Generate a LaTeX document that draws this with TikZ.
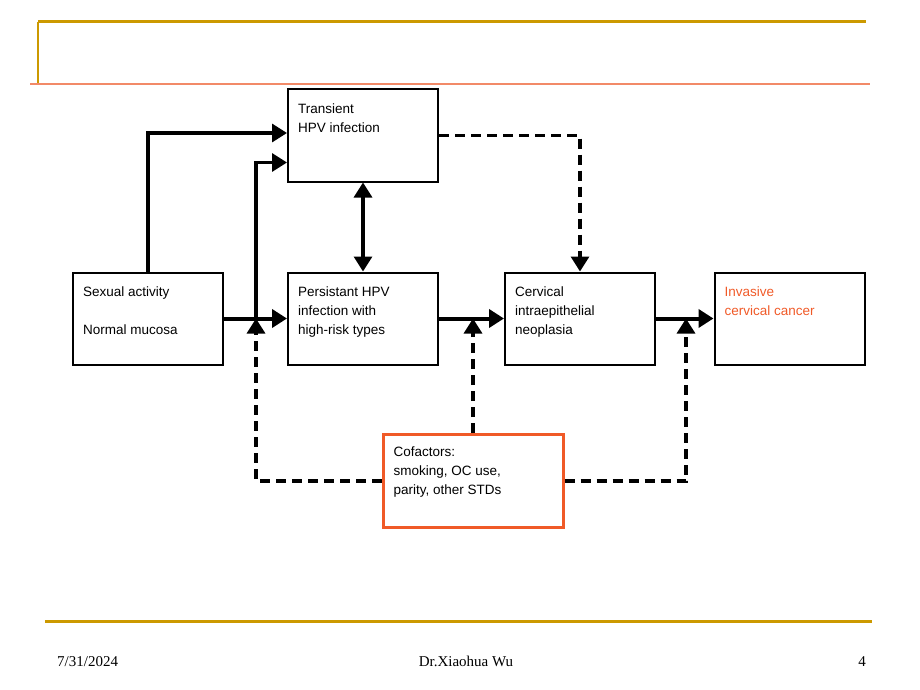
\documentclass[tikz,border=0pt]{standalone}
\usepackage{fontspec}
\setmainfont{Liberation Serif}
\setsansfont{Liberation Sans}
\usetikzlibrary{arrows.meta}

\definecolor{slidegold}{HTML}{CC9900}
\definecolor{slidesalmon}{HTML}{F28A68}
\definecolor{riskred}{HTML}{F05A28}

\tikzset{
  box/.style={draw, line width=2pt, line join=miter, minimum width=150pt, minimum height=92pt, inner sep=0pt},
  txt/.style={anchor=north west, inner sep=0pt, align=left, font=\sffamily\fontsize{13.5}{19}\selectfont},
  foot/.style={inner sep=0pt, font=\fontsize{15}{18}\selectfont},
  flow/.style={line width=3.2pt, -{Triangle[length=15pt,width=18pt]}},
  cof/.style={flow, dash pattern=on 10pt off 6pt},
}

\begin{document}
\begin{tikzpicture}[x=1pt,y=-1pt]
\useasboundingbox (0,0) rectangle (920,690);

% slide frame
\draw[slidegold, line width=3pt] (38,22) -- (866,22);
\draw[slidegold, line width=1.2pt] (38,22) -- (38,84);
\draw[slidesalmon, line width=1.2pt] (30,84) -- (870,84);
\draw[slidegold, line width=3pt] (45,621) -- (872,621);

\node[foot, anchor=base west] (date) at (57,666) {7/31/2024};
\node[foot, anchor=base] (author) at (466,666) {Dr.Xiaohua Wu};
\node[foot, anchor=base east] (page) at (866,666) {4};

% boxes
\node[box] (trans) at (363,135.5) {};
\node[box] (sexual) at (148,318.5) {};
\node[box] (persist) at (363,318.5) {};
\node[box] (cin) at (580,318.5) {};
\node[box] (cancer) at (789.5,318.5) {};
\node[box, draw=riskred, line width=3pt, minimum width=180pt, minimum height=93pt] (cofac) at (473,481) {};

\node[txt] (transt) at ([shift={(11,15)}]trans.north west) {Transient\\HPV infection};
\node[txt] (sexualt) at ([shift={(11,15)}]sexual.north west) {Sexual activity\\[19pt]Normal mucosa};
\node[txt] (persistt) at ([shift={(11,15)}]persist.north west) {Persistant HPV\\infection with\\high-risk types};
\node[txt] (cint) at ([shift={(11,15)}]cin.north west) {Cervical\\intraepithelial\\neoplasia};
\node[txt, text=riskred] (cancert) at ([shift={(11,15)}]cancer.north west) {Invasive\\cervical cancer};
\node[txt] (cofact) at ([shift={(12,14)}]cofac.north west) {Cofactors:\\smoking, OC use,\\parity, other STDs};

% solid paths
\coordinate (j1) at (256,318.5);
\coordinate (j3) at (686,318.5);
\draw[flow, line width=4pt] (sexual.east) -- (persist.west);
\draw[flow, line width=4pt] (persist.east) -- (cin.west);
\draw[flow, line width=4pt] (cin.east) -- (cancer.west);
\draw[flow] (sexual.north) |- ([yshift=2.5pt]trans.west);
\draw[flow] (j1) |- ([yshift=-27pt]trans.west);
\draw[flow, {Triangle[length=15pt,width=18pt]}-{Triangle[length=15pt,width=18pt]}] (trans.south) -- (persist.north);

% dashed paths
\draw[cof] (trans.east) -| (cin.north);
\draw[cof] (cofac.west) -| (j1);
\draw[cof] (cofac.north) -- (cofac.north |- persist.east);
\draw[cof] (cofac.east) -| (j3);

\end{tikzpicture}
\end{document}
